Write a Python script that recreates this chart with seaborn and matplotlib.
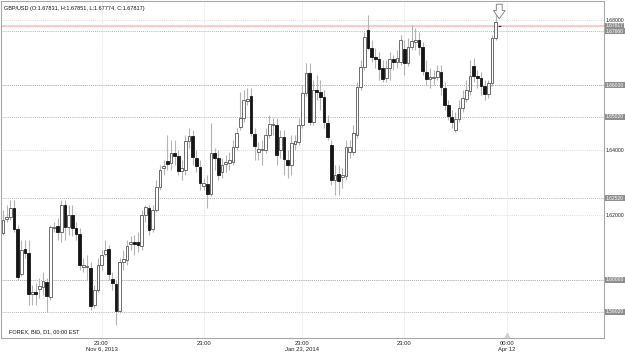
import numpy as np
import pandas as pd
import matplotlib
matplotlib.use("Agg")
import matplotlib.pyplot as plt
import seaborn as sns

# ---------------- data (GBP/USD daily candles) ----------------
opens = [1.6145, 1.6188, 1.6194, 1.6222, 1.6157, 1.6018, 1.6095, 1.6083, 1.5957, 1.5963,
         1.5972, 1.5978, 1.5994, 1.5948, 1.6160, 1.6166, 1.6148, 1.6231, 1.6163, 1.6200,
         1.6160, 1.6142, 1.6040, 1.6040, 1.6037, 1.5923, 1.5969, 1.6046, 1.6080, 1.6095,
         1.6003, 1.5988, 1.5905, 1.6055, 1.6062, 1.6111, 1.6117, 1.6117, 1.6105, 1.6200,
         1.6222, 1.6157, 1.6215, 1.6286, 1.6345, 1.6366, 1.6360, 1.6391, 1.6382, 1.6335,
         1.6338, 1.6428, 1.6443, 1.6375, 1.6348, 1.6289, 1.6295, 1.6265, 1.6391, 1.6375,
         1.6332, 1.6357, 1.6360, 1.6363, 1.6409, 1.6471, 1.6498, 1.6551, 1.6566, 1.6449,
         1.6394, 1.6400, 1.6400, 1.6446, 1.6477, 1.6477, 1.6400, 1.6440, 1.6369, 1.6354,
         1.6418, 1.6425, 1.6477, 1.6575, 1.6637, 1.6486, 1.6585, 1.6578, 1.6563, 1.6483,
         1.6415, 1.6308, 1.6326, 1.6317, 1.6320, 1.6394, 1.6394, 1.6446, 1.6594, 1.6655,
         1.6769, 1.6714, 1.6686, 1.6680, 1.6652, 1.6622, 1.6652, 1.6680, 1.6671, 1.6671,
         1.6711, 1.6668, 1.6717, 1.6732, 1.6738, 1.6717, 1.6640, 1.6618, 1.6622, 1.6625,
         1.6640, 1.6591, 1.6538, 1.6502, 1.6462, 1.6495, 1.6529, 1.6557, 1.6582, 1.6658,
         1.6628, 1.6622, 1.6597, 1.6572, 1.6606, 1.6745, 1.67831]
highs = [1.6215, 1.6231, 1.6246, 1.6246, 1.6169, 1.6123, 1.6123, 1.6123, 1.5985, 1.5991,
         1.6006, 1.6025, 1.6006, 1.6169, 1.6178, 1.6191, 1.6246, 1.6246, 1.6231, 1.6231,
         1.6178, 1.6160, 1.6068, 1.6077, 1.6055, 1.5985, 1.6068, 1.6092, 1.6123, 1.6108,
         1.6025, 1.6000, 1.6068, 1.6092, 1.6123, 1.6135, 1.6138, 1.6148, 1.6215, 1.6231,
         1.6231, 1.6231, 1.6308, 1.6354, 1.6369, 1.6446, 1.6431, 1.6431, 1.6400, 1.6369,
         1.6446, 1.6468, 1.6462, 1.6400, 1.6369, 1.6314, 1.6323, 1.6483, 1.6406, 1.6400,
         1.6375, 1.6385, 1.6394, 1.6431, 1.6468, 1.6578, 1.6585, 1.6591, 1.6591, 1.6468,
         1.6425, 1.6431, 1.6468, 1.6508, 1.6498, 1.6498, 1.6462, 1.6462, 1.6400, 1.6446,
         1.6446, 1.6498, 1.6600, 1.6668, 1.6668, 1.6615, 1.6631, 1.6615, 1.6585, 1.6508,
         1.6431, 1.6354, 1.6354, 1.6345, 1.6431, 1.6431, 1.6477, 1.6609, 1.6677, 1.6763,
         1.6815, 1.6738, 1.6714, 1.6701, 1.6677, 1.6677, 1.6701, 1.6692, 1.6708, 1.6754,
         1.6738, 1.6745, 1.6785, 1.6775, 1.6763, 1.6732, 1.6677, 1.6652, 1.6646, 1.6662,
         1.6662, 1.6609, 1.6554, 1.6523, 1.6517, 1.6554, 1.6585, 1.6615, 1.6677, 1.6683,
         1.6646, 1.6640, 1.6615, 1.6615, 1.6754, 1.6822, 1.67851]
lows = [1.6138, 1.6178, 1.6185, 1.6148, 1.6000, 1.6012, 1.6068, 1.5923, 1.5923, 1.5923,
        1.5945, 1.5954, 1.5902, 1.5938, 1.6148, 1.6123, 1.6117, 1.6123, 1.6138, 1.6135,
        1.6123, 1.6031, 1.6025, 1.6000, 1.5908, 1.5914, 1.5963, 1.6031, 1.6074, 1.6000,
        1.5969, 1.5862, 1.5898, 1.6031, 1.6046, 1.6092, 1.6077, 1.6086, 1.6092, 1.6178,
        1.6138, 1.6148, 1.6209, 1.6277, 1.6323, 1.6338, 1.6338, 1.6354, 1.6323, 1.6308,
        1.6323, 1.6406, 1.6354, 1.6332, 1.6277, 1.6277, 1.6222, 1.6258, 1.6338, 1.6308,
        1.6314, 1.6332, 1.6338, 1.6354, 1.6400, 1.6462, 1.6486, 1.6538, 1.6443, 1.6369,
        1.6369, 1.6354, 1.6391, 1.6437, 1.6446, 1.6354, 1.6375, 1.6323, 1.6314, 1.6323,
        1.6400, 1.6415, 1.6468, 1.6566, 1.6477, 1.6477, 1.6554, 1.6523, 1.6468, 1.6431,
        1.6292, 1.6262, 1.6262, 1.6283, 1.6308, 1.6375, 1.6385, 1.6437, 1.6585, 1.6646,
        1.6708, 1.6671, 1.6652, 1.6615, 1.6609, 1.6609, 1.6615, 1.6646, 1.6652, 1.6662,
        1.6631, 1.6658, 1.6708, 1.6708, 1.6692, 1.6631, 1.6600, 1.6591, 1.6600, 1.6615,
        1.6569, 1.6523, 1.6492, 1.6468, 1.6455, 1.6486, 1.6517, 1.6548, 1.6569, 1.6609,
        1.6591, 1.6569, 1.6554, 1.6560, 1.6597, 1.6738, 1.67774]
closes = [1.6185, 1.6194, 1.6222, 1.6157, 1.6009, 1.6092, 1.6083, 1.5957, 1.5963, 1.5957,
          1.5982, 1.5997, 1.5951, 1.6163, 1.6163, 1.6148, 1.6231, 1.6163, 1.6200, 1.6160,
          1.6142, 1.6046, 1.6046, 1.6043, 1.5920, 1.5969, 1.6046, 1.6077, 1.6092, 1.6018,
          1.5991, 1.5905, 1.6055, 1.6065, 1.6105, 1.6117, 1.6111, 1.6108, 1.6200, 1.6225,
          1.6154, 1.6215, 1.6286, 1.6338, 1.6351, 1.6357, 1.6391, 1.6382, 1.6335, 1.6345,
          1.6428, 1.6443, 1.6378, 1.6351, 1.6298, 1.6298, 1.6265, 1.6391, 1.6375, 1.6323,
          1.6354, 1.6363, 1.6369, 1.6409, 1.6452, 1.6498, 1.6554, 1.6557, 1.6452, 1.6412,
          1.6403, 1.6403, 1.6446, 1.6480, 1.6480, 1.6385, 1.6440, 1.6372, 1.6354, 1.6422,
          1.6428, 1.6477, 1.6575, 1.6637, 1.6486, 1.6585, 1.6578, 1.6563, 1.6486, 1.6440,
          1.6308, 1.6323, 1.6305, 1.6323, 1.6409, 1.6409, 1.6452, 1.6594, 1.6655, 1.6748,
          1.6714, 1.6686, 1.6680, 1.6649, 1.6618, 1.6652, 1.6680, 1.6671, 1.6683, 1.6738,
          1.6668, 1.6717, 1.6735, 1.6738, 1.6717, 1.6643, 1.6618, 1.6625, 1.6625, 1.6643,
          1.6594, 1.6538, 1.6505, 1.6486, 1.6495, 1.6529, 1.6560, 1.6585, 1.6628, 1.6628,
          1.6622, 1.6597, 1.6572, 1.6606, 1.6745, 1.6794, 1.67817]

grid_bars = [27, 55, 82, 110, 138]
grid_labels = ["23:00\nNov 6, 2013", "23:00", "23:00\nJan 23, 2014", "23:00", "00:00\nApr 12"]
price_ticks = [1.60, 1.62, 1.64, 1.66, 1.68]
level_prices = [1.67660, 1.66000, 1.65020, 1.62520, 1.60000, 1.59020]
current_price = 1.67817
title_text = "GBP/USD (O:1.67831, H:1.67851, L:1.67774, C:1.67817)"
footer_text = "FOREX, BID, D1, 00:00 EST"

df = pd.DataFrame({"open": opens, "high": highs, "low": lows, "close": closes})
df["bar"] = np.arange(len(df))
df["up"] = df["close"] >= df["open"]

# ---------------- figure ----------------
sns.set_theme(style="white")
plt.rcParams["font.family"] = ["Liberation Sans", "DejaVu Sans"]

W, H = 625, 353
fig = plt.figure(figsize=(W / 100, H / 100), dpi=100)
ax = fig.add_axes([1 / W, 15 / H, 603 / W, 337 / H])
ax.set_facecolor("white")

# grid lines
for p in price_ticks:
    ax.axhline(p, color="#cfcfcf", lw=0.6, ls=(0, (1, 1.5)), zorder=0)
for b in grid_bars:
    ax.axvline(b, color="#dcdcdc", lw=0.6, ls=(0, (1, 1.5)), zorder=0)
for p in level_prices:
    ax.axhline(p, color="#9a9a9a", lw=0.6, ls=(0, (1, 1.5)), zorder=0)
ax.axhline(current_price, color="#ffc8c8", lw=1.4, zorder=0.5)

# wicks
ax.vlines(df["bar"], df["low"], df["high"], color="#b4b4b4", lw=0.8, zorder=1)

# bodies
body_bottom = np.minimum(df["open"], df["close"])
body_h = np.maximum(np.abs(df["close"] - df["open"]), 0.00008)
up = df["up"].values
ax.bar(df["bar"][up], body_h[up], bottom=body_bottom[up], width=0.74,
       color="white", edgecolor="#555555", linewidth=0.6, zorder=2)
ax.bar(df["bar"][~up], body_h[~up], bottom=body_bottom[~up], width=0.74,
       color="#151515", edgecolor="#151515", linewidth=0.6, zorder=2)

# arrow above last bar
last = len(df) - 1
ax.annotate("", xy=(last, df["high"].iloc[-1] + 0.0010), xytext=(last, df["high"].iloc[-1] + 0.0072),
            arrowprops=dict(arrowstyle="simple,head_length=0.5,head_width=0.7,tail_width=0.35",
                            fc="white", ec="#8a8a8a", lw=0.7), zorder=3)

# limits
ax.set_xlim(-0.55, 164.7)
ax.set_ylim(1.58215, 1.68585)

# x tick labels
ax.set_xticks(grid_bars)
ax.set_xticklabels(grid_labels, fontsize=4.2, color="#222222", linespacing=1.25)
ax.tick_params(axis="x", length=0, pad=2)

# right price labels
ax.yaxis.tick_right()
ax.set_yticks(price_ticks)
ax.set_yticklabels([f"{p:.5f}" for p in price_ticks], fontsize=3.7, color="#222222")
ax.tick_params(axis="y", length=0, pad=1.0)

trans = matplotlib.transforms.blended_transform_factory(ax.transAxes, ax.transData)
for p in level_prices + [current_price]:
    ax.text(1.003, p, f"{p:.5f}", transform=trans, fontsize=3.6, color="white",
            va="center", ha="left", clip_on=False, zorder=5,
            bbox=dict(boxstyle="square,pad=0.15", fc="#8e8e8e", ec="none"))

# frame
for s in ax.spines.values():
    s.set_color("#a8a8a8")
    s.set_linewidth(0.8)

# texts
ax.text(0.005, 0.985, title_text, transform=ax.transAxes, fontsize=4.0, color="#111111",
        va="top", ha="left")
ax.text(0.013, 0.012, footer_text, transform=ax.transAxes, fontsize=4.0, color="#111111",
        va="bottom", ha="left")

# small marker on the bottom edge at the last grid position
trans_b = matplotlib.transforms.blended_transform_factory(ax.transData, ax.transAxes)
ax.plot([grid_bars[-1]], [0.008], marker="^", ms=3, color="#d0d0d0", transform=trans_b,
        clip_on=False, zorder=4)

fig.savefig("out.png", dpi=100)
